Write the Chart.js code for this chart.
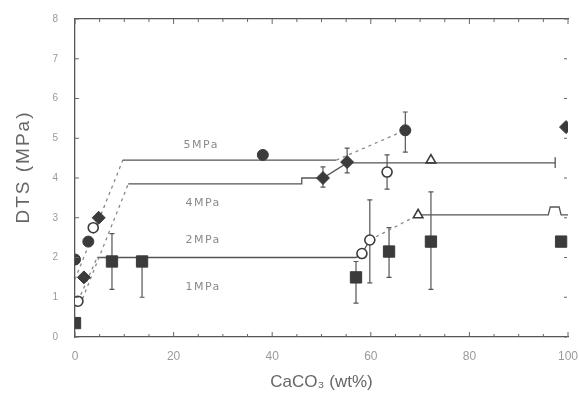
<!DOCTYPE html>
<html>
<head>
<meta charset="utf-8">
<script src="https://cdn.jsdelivr.net/npm/chart.js@4.4.0/dist/chart.umd.min.js"></script>
<style>
  html, body { margin: 0; padding: 0; background: #fff; }
  #wrap { width: 579px; height: 394px; }
</style>
</head>
<body>
<div id="wrap"><canvas id="dtsChart" width="579" height="394"></canvas></div>
<script>
// 🔹 DATA: CaCO3 content (wt%) vs tensile strength (MPa)

// filled squares (1 MPa)
const sqX  = [0, 7.5, 13.6, 57, 63.7, 72.2, 98.6];
const sqY  = [0.35, 1.9, 1.9, 1.5, 2.15, 2.4, 2.4];
const sqLo = [null, 1.2, 1.0, 0.85, 1.5, 1.2, null];
const sqHi = [null, 2.6, 2.0, 1.9, 2.75, 3.65, null];

// open circles (2 MPa)
const ocX  = [0.6, 3.7, 58.2, 59.8, 63.3];
const ocY  = [0.9, 2.75, 2.1, 2.44, 4.15];
const ocLo = [null, null, null, 1.36, 3.72];
const ocHi = [null, null, null, 3.45, 4.58];

// open triangles
const otX = [69.6, 72.2];
const otY = [3.07, 4.45];

// filled diamonds (4 MPa)
const fdX  = [1.8, 4.8, 50.3, 55.2, 99.6];
const fdY  = [1.5, 3.0, 4.0, 4.4, 5.28];
const fdLo = [null, null, 3.77, 4.13, null];
const fdHi = [null, null, 4.28, 4.75, null];

// filled circles (5 MPa)
const fcX  = [0, 2.7, 38.1, 67];
const fcY  = [1.95, 2.4, 4.58, 5.2];
const fcLo = [null, null, null, 4.65];
const fcHi = [null, null, null, 5.66];

// guide lines (dashed segments listed by start index)
const l5X = [0, 9.7, 53, 67];
const l5Y = [1.45, 4.45, 4.45, 5.2];
const l5Dash = [0, 2];

const l4X = [1.0, 10.8, 46, 46, 50.3, 55.2, 97.4, 97.4, 97.4];
const l4Y = [0.8, 3.85, 3.85, 4.0, 4.0, 4.38, 4.38, 4.52, 4.25];
const l4Dash = [0];

const l2X = [0.6, 4.5, 57, 58.2, 59.8, 69.6, 96, 96.4, 98.2, 98.6, 100];
const l2Y = [0.9, 2.0, 2.0, 2.1, 2.44, 3.07, 3.07, 3.27, 3.27, 3.07, 3.07];
const l2Dash = [0, 4];

// pressure labels
const noteText = ['5MPa', '4MPa', '2MPa', '1MPa'];
const noteX = [25.6, 26, 26, 26];
const noteY = [4.83, 3.37, 2.44, 1.26];

const xTicks = [0, 20, 40, 60, 80, 100];
const yTicks = [0, 1, 2, 3, 4, 5, 6, 7, 8];


// 🔹 HELPERS
function pts(xs, ys) {
    return xs.map((x, i) => ({ x: x, y: ys[i] }));
}

const INK = '#3b3b3b';

function markerSet(xs, ys, style, radius, filled, lo, hi) {
    return {
        data: pts(xs, ys),
        showLine: false,
        pointStyle: style,
        pointRadius: radius,
        pointBackgroundColor: filled ? INK : '#ffffff',
        pointBorderColor: INK,
        pointBorderWidth: filled ? 1 : 1.6,
        errLo: lo,
        errHi: hi,
        order: 0
    };
}

function lineSet(xs, ys, dashIdx) {
    return {
        data: pts(xs, ys),
        showLine: true,
        pointRadius: 0,
        borderColor: '#555',
        borderWidth: 1.3,
        segment: {
            borderDash: c => dashIdx.includes(c.p0DataIndex) ? [3, 4] : undefined,
            borderColor: c => dashIdx.includes(c.p0DataIndex) ? '#888' : undefined
        },
        order: 1
    };
}


// 🔹 PLUGINS
// vertical error bars with caps
const errorBars = {
    id: 'errorBars',
    beforeDatasetsDraw(chart) {
        const { ctx, scales: { x, y } } = chart;
        chart.data.datasets.forEach(ds => {
            if (!ds.errLo) return;
            ctx.save();
            ctx.strokeStyle = '#555';
            ctx.lineWidth = 1.2;
            ds.data.forEach((p, j) => {
                const lo = ds.errLo[j], hi = ds.errHi[j];
                if (lo == null || hi == null) return;
                const px = x.getPixelForValue(p.x);
                const y0 = y.getPixelForValue(lo);
                const y1 = y.getPixelForValue(hi);
                ctx.beginPath();
                ctx.moveTo(px, y0); ctx.lineTo(px, y1);
                ctx.moveTo(px - 2.5, y0); ctx.lineTo(px + 2.5, y0);
                ctx.moveTo(px - 2.5, y1); ctx.lineTo(px + 2.5, y1);
                ctx.stroke();
            });
            ctx.restore();
        });
    }
};

// inward tick marks on all four sides
const innerTicks = {
    id: 'innerTicks',
    afterDraw(chart) {
        const { ctx, chartArea: a, scales: { x, y } } = chart;
        ctx.save();
        ctx.strokeStyle = '#666';
        ctx.lineWidth = 1;
        ctx.beginPath();
        for (let v = 0; v <= 100; v += 5) {
            const px = x.getPixelForValue(v);
            const len = v % 20 === 0 ? 5 : 3;
            ctx.moveTo(px, a.bottom); ctx.lineTo(px, a.bottom - len);
            ctx.moveTo(px, a.top); ctx.lineTo(px, a.top + len);
        }
        yTicks.forEach(v => {
            const py = y.getPixelForValue(v);
            ctx.moveTo(a.left, py); ctx.lineTo(a.left + 4, py);
            ctx.moveTo(a.right - 4, py); ctx.lineTo(a.right - 1, py);
        });
        ctx.stroke();
        ctx.restore();
    }
};

// pressure labels + rotated y title
const textLayer = {
    id: 'textLayer',
    afterDraw(chart) {
        const { ctx, chartArea: a, scales: { x, y } } = chart;
        ctx.save();
        ctx.fillStyle = '#8a8a8a';
        ctx.font = '11px "DejaVu Sans", sans-serif';
        ctx.letterSpacing = '1.5px';
        ctx.textAlign = 'center';
        ctx.textBaseline = 'middle';
        noteText.forEach((t, i) => {
            ctx.fillText(t, x.getPixelForValue(noteX[i]), y.getPixelForValue(noteY[i]));
        });

        ctx.translate(24, (a.top + a.bottom) / 2 - 11);
        ctx.rotate(-Math.PI / 2);
        ctx.fillStyle = '#666';
        ctx.font = '19px "Liberation Sans", Arial, sans-serif';
        ctx.letterSpacing = '2px';
        ctx.fillText('DTS (MPa)', 0, 0);
        ctx.restore();
    }
};


// 🔹 CHART
const ctx = document.getElementById('dtsChart').getContext('2d');

const chart = new Chart(ctx, {
    type: 'scatter',
    data: {
        datasets: [
            markerSet(sqX, sqY, 'rect', 8, true, sqLo, sqHi),
            markerSet(ocX, ocY, 'circle', 5, false, ocLo, ocHi),
            markerSet(otX, otY, 'triangle', 5.5, false, null, null),
            markerSet(fdX, fdY, 'rectRot', 6.5, true, fdLo, fdHi),
            markerSet(fcX, fcY, 'circle', 5.5, true, fcLo, fcHi),
            lineSet(l5X, l5Y, l5Dash),
            lineSet(l4X, l4Y, l4Dash),
            lineSet(l2X, l2Y, l2Dash)
        ]
    },
    options: {
        responsive: false,
        animation: false,
        layout: { padding: { top: 19, right: 0, left: 0, bottom: 0 } },
        plugins: {
            legend: { display: false },
            tooltip: { enabled: false }
        },
        scales: {
            x: {
                type: 'linear',
                position: 'bottom',
                min: 0,
                max: 100,
                afterFit: s => { s.height = 57; s.paddingRight = 11; },
                afterBuildTicks: s => { s.ticks = xTicks.map(v => ({ value: v })); },
                ticks: {
                    color: '#9a9a9a',
                    font: { size: 12 },
                    padding: 12,
                    maxRotation: 0
                },
                grid: { display: false, drawTicks: false },
                border: { color: '#555', width: 1.3 },
                title: {
                    display: true,
                    text: 'CaCO₃ (wt%)',
                    color: '#666',
                    font: { size: 17 },
                    padding: { top: 0, bottom: 1 }
                }
            },
            xTop: {
                type: 'linear',
                position: 'top',
                min: 0,
                max: 100,
                afterFit: s => { s.height = 0; s.paddingRight = 0; s.paddingLeft = 0; },
                ticks: { display: false },
                grid: { display: false, drawTicks: false },
                border: { color: '#555', width: 1.3 }
            },
            y: {
                type: 'linear',
                min: 0,
                max: 8,
                afterFit: s => { s.width = 75; s.paddingTop = 0; s.paddingBottom = 0; },
                afterBuildTicks: s => { s.ticks = yTicks.map(v => ({ value: v })); },
                ticks: {
                    color: '#9a9a9a',
                    font: { size: 10 },
                    padding: 17
                },
                grid: { display: false, drawTicks: false },
                border: { color: '#555', width: 1.3 }
            }
        }
    },
    plugins: [errorBars, innerTicks, textLayer]
});
</script>
</body>
</html>
